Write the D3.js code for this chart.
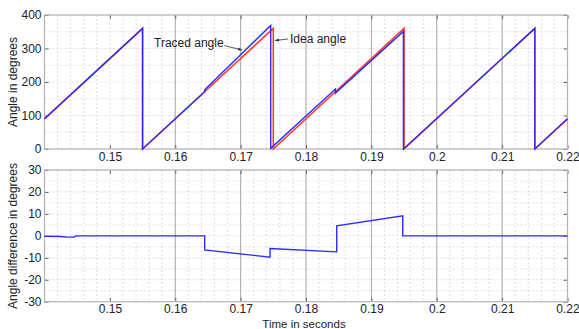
<!DOCTYPE html>
<html>
<head>
<meta charset="utf-8">
<script src="https://cdn.jsdelivr.net/npm/d3@7"></script>
<style>
  html, body { margin: 0; padding: 0; background: #fff; }
  svg { display: block; font-family: "Liberation Sans", Arial, sans-serif; }
  .tick text { font-size: 12px; fill: #222; }
  .domain { display: none; }
  .tick line { stroke: #666; }
</style>
</head>
<body>
<svg id="chart" width="579" height="329"></svg>
<script>
// Time axis ticks (seconds)
const timeTicks = [0.15, 0.16, 0.17, 0.18, 0.19, 0.20, 0.21, 0.22];
const timeTickLabels = ["0.15", "0.16", "0.17", "0.18", "0.19", "0.2", "0.21", "0.22"];
const angleTicks = [0, 100, 200, 300, 400];
const diffTicks = [-30, -20, -10, 0, 10, 20, 30];

// Ideal (reference) angle, degrees, breakpoints of the sawtooth
const idealTime  = [0.14, 0.155, 0.155, 0.175, 0.175, 0.195, 0.195, 0.215, 0.215, 0.22];
const idealAngle = [90,   360,   0,     360,   0,     360,   0,     360,   0,     90];

// Traced angle, degrees
const tracedTime  = [0.14, 0.155, 0.155, 0.1645, 0.1645, 0.1746, 0.1746, 0.1845, 0.1845, 0.1949, 0.1949, 0.215, 0.215, 0.22];
const tracedAngle = [90,   360,   0,     171,    177,    369,    2,      179,    167,    351,    0,      360,   0,     90];

// Angle difference, degrees
const diffTime  = [0.14, 0.1425, 0.1435, 0.1445, 0.1448, 0.1645, 0.1645, 0.1745, 0.1745, 0.1847, 0.1847, 0.1948, 0.1948, 0.22];
const diffValue = [-0.2, -0.3,   -0.6,   -0.6,   0,      0,      -6.4,   -9.7,   -5.8,   -7.3,   4.6,    9.1,    0,      0];

const svg = d3.select("#chart");
const left = 44.5, right = 567.5;
const x = d3.scaleLinear().domain([0.14, 0.22]).range([left, right]);

const yAngle = d3.scaleLinear().domain([0, 400]).range([149, 15]);
const yDiff = d3.scaleLinear().domain([-30, 30]).range([301.7, 170]);

const minorX = d3.range(0, 41).map(i => 0.14 + i * 0.002);
const majorX = [0.16, 0.17, 0.18, 0.19, 0.20, 0.21];

function panel(y, yTicks, minorY) {
  const [y0, y1] = y.range();
  const g = svg.append("g");

  // dashed minor grid
  g.selectAll(".gx").data(minorX).join("line")
    .attr("x1", d => x(d)).attr("x2", d => x(d))
    .attr("y1", y1).attr("y2", y0)
    .attr("stroke", "#d6d6d6").attr("stroke-width", 0.8)
    .attr("stroke-dasharray", "2,2");
  g.selectAll(".gy").data(minorY).join("line")
    .attr("x1", left).attr("x2", right)
    .attr("y1", d => y(d)).attr("y2", d => y(d))
    .attr("stroke", "#d6d6d6").attr("stroke-width", 0.8)
    .attr("stroke-dasharray", "2,2");
  // solid time grid
  g.selectAll(".mx").data(majorX).join("line")
    .attr("x1", d => x(d)).attr("x2", d => x(d))
    .attr("y1", y1).attr("y2", y0)
    .attr("stroke", "#a8a8a8").attr("stroke-width", 1);

  // axes with inward ticks
  const fmt = d => timeTickLabels[timeTicks.indexOf(d)];
  g.append("g").attr("transform", `translate(0,${y0})`)
    .call(d3.axisBottom(x).tickValues(timeTicks).tickFormat(fmt).tickSize(-4).tickPadding(3));
  g.append("g").attr("transform", `translate(0,${y1})`)
    .call(d3.axisTop(x).tickValues(timeTicks).tickFormat("").tickSize(-4));
  g.append("g").attr("transform", `translate(${left},0)`)
    .call(d3.axisLeft(y).tickValues(yTicks).tickFormat(d => String(d)).tickSize(-4).tickPadding(3));
  g.append("g").attr("transform", `translate(${right},0)`)
    .call(d3.axisRight(y).tickValues(yTicks).tickFormat("").tickSize(-4));

  // box
  g.append("rect").attr("x", left).attr("y", y1)
    .attr("width", right - left).attr("height", y0 - y1)
    .attr("fill", "none").attr("stroke", "#b4b4b4").attr("stroke-width", 1.2);
  return g;
}

panel(yAngle, angleTicks, d3.range(0, 401, 50));
panel(yDiff, diffTicks, d3.range(-30, 31, 5));

const lineAngle = d3.line().x(d => x(d[0])).y(d => yAngle(d[1]));
const lineDiff = d3.line().x(d => x(d[0])).y(d => yDiff(d[1]));

svg.append("path").datum(d3.zip(idealTime, idealAngle))
  .attr("d", lineAngle).attr("fill", "none")
  .attr("stroke", "#ff3b3b").attr("stroke-width", 1.6);
svg.append("path").datum(d3.zip(tracedTime, tracedAngle))
  .attr("d", lineAngle).attr("fill", "none")
  .attr("stroke", "#2b2bf5").attr("stroke-width", 1.4);
svg.append("path").datum(d3.zip(diffTime, diffValue))
  .attr("d", lineDiff).attr("fill", "none")
  .attr("stroke", "#2b2bf5").attr("stroke-width", 1.4);

// annotations
const defs = svg.append("defs");
defs.append("marker").attr("id", "arr").attr("viewBox", "0 0 10 10")
  .attr("refX", 10).attr("refY", 5).attr("markerWidth", 5).attr("markerHeight", 5)
  .attr("orient", "auto")
  .append("path").attr("d", "M0,1 L10,5 L0,9 Z").attr("fill", "#333");

svg.append("text").attr("x", 154).attr("y", 47)
  .attr("font-size", 12).attr("fill", "#222").text("Traced angle");
svg.append("line").attr("x1", 224).attr("y1", 45.5).attr("x2", 242).attr("y2", 50)
  .attr("stroke", "#333").attr("stroke-width", 0.8).attr("marker-end", "url(#arr)");

svg.append("text").attr("x", 290).attr("y", 43)
  .attr("font-size", 12).attr("fill", "#222").text("Idea angle");
svg.append("line").attr("x1", 288).attr("y1", 39).attr("x2", 275).attr("y2", 40.5)
  .attr("stroke", "#333").attr("stroke-width", 0.8).attr("marker-end", "url(#arr)");

// axis titles
svg.append("text").attr("transform", "translate(17,82) rotate(-90)")
  .attr("text-anchor", "middle").attr("font-size", 12).attr("fill", "#222")
  .text("Angle in degrees");
svg.append("text").attr("transform", "translate(17,236) rotate(-90)")
  .attr("text-anchor", "middle").attr("font-size", 12).attr("fill", "#222")
  .text("Angle difference in degrees");
svg.append("text").attr("x", 304).attr("y", 327.5)
  .attr("text-anchor", "middle").attr("font-size", 11.5).attr("fill", "#222")
  .text("Time in seconds");
</script>
</body>
</html>
